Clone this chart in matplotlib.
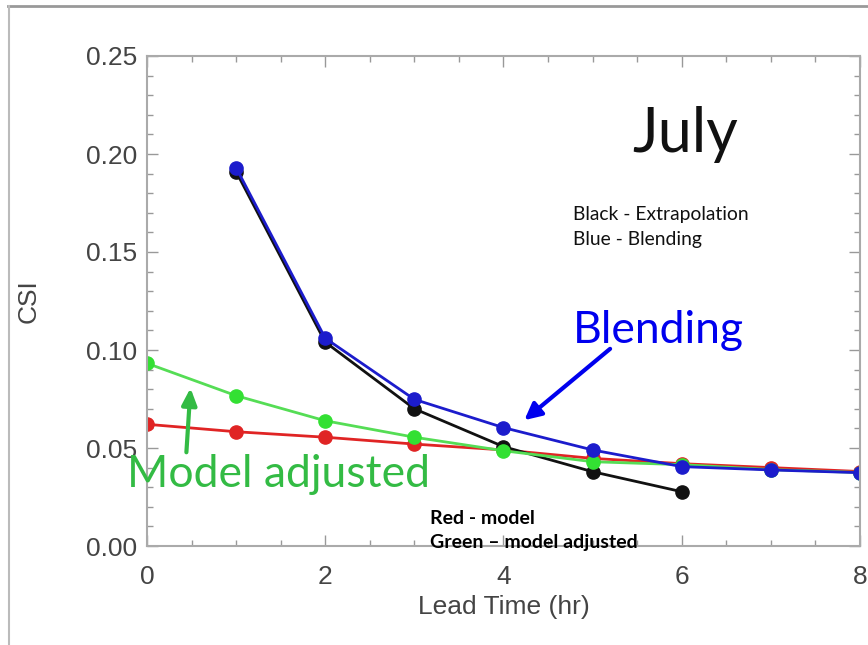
import matplotlib as mpl
mpl.use('Agg')
from matplotlib import pyplot as plt
from matplotlib.ticker import MultipleLocator

# CSI vs lead time, July
lead_all = [0, 1, 2, 3, 4, 5, 6, 7, 8]
lead_extrap = [1, 2, 3, 4, 5, 6]
lead_blend = [1, 2, 3, 4, 5, 6, 7, 8]
csi_extrap = [0.191, 0.104, 0.070, 0.0507, 0.0379, 0.0277]
csi_blend = [0.193, 0.106, 0.0748, 0.0604, 0.049, 0.0405, 0.0388, 0.0374]
csi_model = [0.0621, 0.0583, 0.0555, 0.052, 0.049, 0.0447, 0.042, 0.040, 0.038]
csi_adj = [0.0932, 0.0767, 0.0639, 0.0555, 0.0486, 0.043, 0.0415, 0.039, 0.0375]

W, H = 868, 645
fig = plt.figure(figsize=(W/100., H/100.), dpi=100)
ax = fig.add_axes([147./W, 1-546./H, (860-147.)/W, (546-56.)/H])

ax.plot(lead_all, csi_model, '-o', color='#e02424', lw=2, ms=9.5, mec='#e02424')
ax.plot(lead_extrap, csi_extrap, '-o', color='#111111', lw=2, ms=9.5)
ax.plot(lead_all, csi_adj, '-o', color='#55dd55', lw=2, ms=9.5,
        mfc='#33e033', mec='#33e033')
ax.plot(lead_blend, csi_blend, '-o', color='#1c1ccc', lw=2, ms=9.5, mec='#1c1ccc')

ax.set_xlim(0, 8)
ax.set_ylim(0, 0.25)
ax.xaxis.set_major_locator(MultipleLocator(2))
ax.xaxis.set_minor_locator(MultipleLocator(0.5))
ax.yaxis.set_major_locator(MultipleLocator(0.05))
ax.yaxis.set_minor_locator(MultipleLocator(0.01))
ax.yaxis.set_major_formatter(mpl.ticker.FormatStrFormatter('%.2f'))
ax.tick_params(which='both', direction='in', top=True, right=True,
               color='#999999', width=1)
ax.tick_params(which='major', length=8)
ax.tick_params(which='minor', length=4)
ax.tick_params(axis='x', pad=14)
ax.tick_params(axis='y', pad=7)
for lab in ax.get_xticklabels() + ax.get_yticklabels():
    lab.set_family('Liberation Sans')
    lab.set_fontsize(19)
    lab.set_color('#444444')
for s in ax.spines.values():
    s.set_color('#aaaaaa')
    s.set_linewidth(1.5)

ax.set_xlabel('Lead Time (hr)', family='Liberation Sans', fontsize=19,
              color='#444444', labelpad=4)
ax.set_ylabel('CSI', family='Liberation Sans', fontsize=19,
              color='#444444', labelpad=33)

ax.text(5.44, 0.201, 'July', family='Lato', fontsize=44, color='#111111',
        va='baseline')
ax.text(4.78, 0.1663, 'Black - Extrapolation', family='Lato', fontsize=13.9,
        color='#111111', va='baseline')
ax.text(4.78, 0.1536, 'Blue - Blending', family='Lato', fontsize=13.9,
        color='#111111', va='baseline')
ax.text(4.78, 0.1036, 'Blending', family='Lato', fontsize=32,
        color='#0000ee', va='baseline')
ax.text(-0.22, 0.0301, 'Model adjusted', family='Lato', fontsize=32,
        color='#33bb44', va='baseline')
ax.text(3.18, 0.0112, 'Red - model', family='Lato', fontsize=14,
        weight='bold', color='#000000', va='baseline')
ax.text(3.18, -0.001, 'Green \u2013 model adjusted', family='Lato',
        fontsize=14, weight='bold', color='#000000', va='baseline',
        clip_on=False)

ax.annotate('', xy=(4.21, 0.0633), xytext=(5.22, 0.1015),
            arrowprops=dict(arrowstyle='-|>,head_length=1.0,head_width=0.5',
                            color='#0000ee', lw=3))
ax.annotate('', xy=(0.49, 0.082), xytext=(0.44, 0.0464),
            arrowprops=dict(arrowstyle='-|>,head_length=1.0,head_width=0.45',
                            color='#33bb44', lw=3))

# slide border
fig.add_artist(plt.Line2D([8./W, 1], [1-6./H, 1-6./H], color='#999999', lw=2,
                          transform=fig.transFigure))
fig.add_artist(plt.Line2D([9./W, 9./W], [0, 1-6./H], color='#bbbbbb', lw=1.5,
                          transform=fig.transFigure))

fig.savefig('out.png', dpi=100)
